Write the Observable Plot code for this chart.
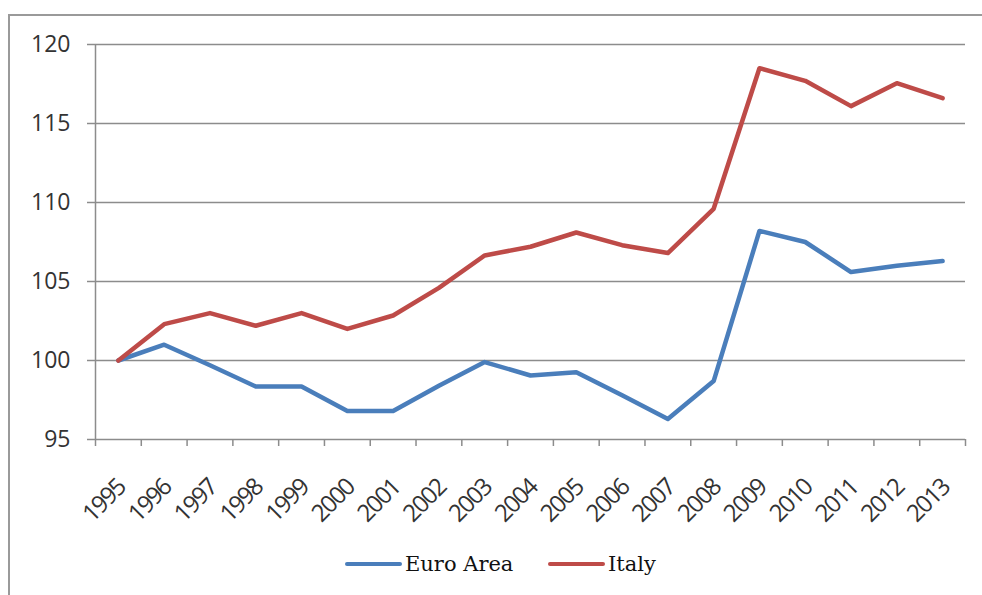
<!DOCTYPE html>
<html>
<head>
<meta charset="utf-8">
<script src="https://cdn.jsdelivr.net/npm/d3@7"></script>
<script src="https://cdn.jsdelivr.net/npm/@observablehq/plot@0.6"></script>
<style>
  html, body { margin: 0; padding: 0; background: #fff; width: 982px; height: 595px; overflow: hidden; }
  #frame { position: absolute; left: 8px; top: 14px; width: 1000px; height: 600px; border: 2px solid #9a9a9a; box-sizing: border-box; }
  #chart { position: absolute; left: 0; top: 0; }
  #legend { position: absolute; left: 0; top: 540px; width: 982px; height: 55px; font-family: "DejaVu Serif", serif; font-size: 21px; color: #111; }
  .item { position: absolute; top: 12px; display: flex; align-items: center; }
  .swatch { display: inline-block; width: 57px; height: 4px; border-radius: 2px; margin-right: 3px; }
</style>
</head>
<body>
<div id="frame"></div>
<div id="chart"></div>
<div id="legend"></div>
<script>
const years = [1995,1996,1997,1998,1999,2000,2001,2002,2003,2004,2005,2006,2007,2008,2009,2010,2011,2012,2013];
const euroArea = [100,101.0,99.7,98.35,98.35,96.8,96.8,98.4,99.9,99.05,99.25,97.8,96.3,98.7,108.2,107.5,105.6,106.0,106.3];
const italy = [100,102.3,103.0,102.2,103.0,102.0,102.85,104.6,106.65,107.2,108.1,107.3,106.8,109.6,118.5,117.7,116.1,117.55,116.6];
const seriesNames = ["Euro Area", "Italy"];
const seriesColors = ["#4a7ebb", "#be4b48"];
const yTicks = [95,100,105,110,115,120];

const rows = [];
years.forEach((yr, i) => {
  rows.push({year: yr, value: euroArea[i], series: seriesNames[0]});
  rows.push({year: yr, value: italy[i], series: seriesNames[1]});
});
const bounds = years.map(y => y - 0.5).concat([years[years.length - 1] + 0.5]);
const gray = "#8c8c8c";

const chart = Plot.plot({
  width: 982,
  height: 540,
  marginLeft: 95,
  marginRight: 17,
  marginTop: 44,
  marginBottom: 101,
  style: {fontFamily: "'Open Sans', sans-serif", fontSize: "23px", color: "#333", background: "transparent"},
  x: {type: "linear", domain: [bounds[0], bounds[bounds.length - 1]]},
  y: {domain: [95, 120]},
  color: {domain: seriesNames, range: seriesColors},
  marks: [
    Plot.ruleY(yTicks.filter(d => d > 95), {stroke: gray, strokeWidth: 1.5}),
    Plot.ruleX([bounds[0]], {stroke: gray, strokeWidth: 1.5}),
    Plot.ruleY([95], {stroke: gray, strokeWidth: 1.5}),
    Plot.axisY({ticks: yTicks, tickSize: 8, tickPadding: 17, stroke: gray, strokeWidth: 1.5, fill: "#333", fontSize: 23, label: null, tickFormat: d => String(d)}),
    Plot.axisX({ticks: bounds, tickSize: 7, stroke: gray, strokeWidth: 1.5, tickFormat: () => "", label: null}),
    Plot.axisX({ticks: years, tickSize: 0, tickPadding: 30, dx: 3, dy: 14, tickRotate: -45, fill: "#333", fontSize: 24, label: null, tickFormat: d => String(d)}),
    Plot.line(rows, {x: "year", y: "value", z: "series", stroke: "series", strokeWidth: 4.5, strokeLinejoin: "round", strokeLinecap: "round"})
  ]
});
chart.querySelectorAll('[aria-label="x-axis tick label"] text').forEach(t => t.setAttribute("letter-spacing", "-1.6"));
document.getElementById("chart").appendChild(chart);

const legend = document.getElementById("legend");
const lefts = [345, 548];
seriesNames.forEach((name, i) => {
  const item = document.createElement("div");
  item.className = "item";
  item.style.left = lefts[i] + "px";
  const sw = document.createElement("span");
  sw.className = "swatch";
  sw.style.background = seriesColors[i];
  const tx = document.createElement("span");
  tx.textContent = name;
  item.appendChild(sw);
  item.appendChild(tx);
  legend.appendChild(item);
});
</script>
</body>
</html>
